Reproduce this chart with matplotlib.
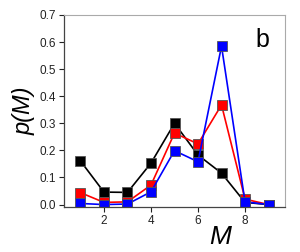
import matplotlib.pyplot as plt

M = [1, 2, 3, 4, 5, 6, 7, 8, 9]
p_black = [0.161, 0.046, 0.045, 0.153, 0.300, 0.183, 0.116, 0.008, 0.0]
p_red = [0.044, 0.008, 0.010, 0.072, 0.264, 0.224, 0.368, 0.020, 0.0]
p_blue = [0.004, 0.000, 0.002, 0.047, 0.199, 0.158, 0.585, 0.010, 0.0]

plt.rcParams['font.family'] = ['Liberation Sans', 'DejaVu Sans']

fig = plt.figure(figsize=(3.0, 2.52), dpi=100)
ax = fig.add_axes([64/300, 1-207/252, (285-64)/300, (207-15)/252])

for y, c in [(p_black, 'black'), (p_red, 'red'), (p_blue, 'blue')]:
    ax.plot(M, y, color=c, lw=1.2, marker='s', ms=6.8, mfc=c, mec='#555555', mew=0.6)

ax.set_xlim(0.3, 9.7)
ax.set_ylim(-0.009, 0.7)
ax.set_xticks([2, 4, 6, 8])
ax.set_yticks([0, 0.1, 0.2, 0.3, 0.4, 0.5, 0.6, 0.7])
ax.set_yticklabels(['0.0', '0.1', '0.2', '0.3', '0.4', '0.5', '0.6', '0.7'])
ax.tick_params(direction='out', length=3.5, width=0.8, labelsize=8.5, colors='#222222', pad=2)

for s in ['top', 'right']:
    ax.spines[s].set_color('#aaaaaa')
for s in ['left', 'bottom']:
    ax.spines[s].set_color('#444444')
    ax.spines[s].set_linewidth(0.9)

ax.set_xlabel('M', fontsize=19, fontstyle='italic')
ax.xaxis.set_label_coords(0.705, -0.095)
ax.set_ylabel('p(M)', fontsize=17, fontstyle='italic', labelpad=3)
ax.text(0.93, 0.93, 'b', transform=ax.transAxes, fontsize=18, ha='right', va='top')

fig.savefig('out.png', dpi=100)
